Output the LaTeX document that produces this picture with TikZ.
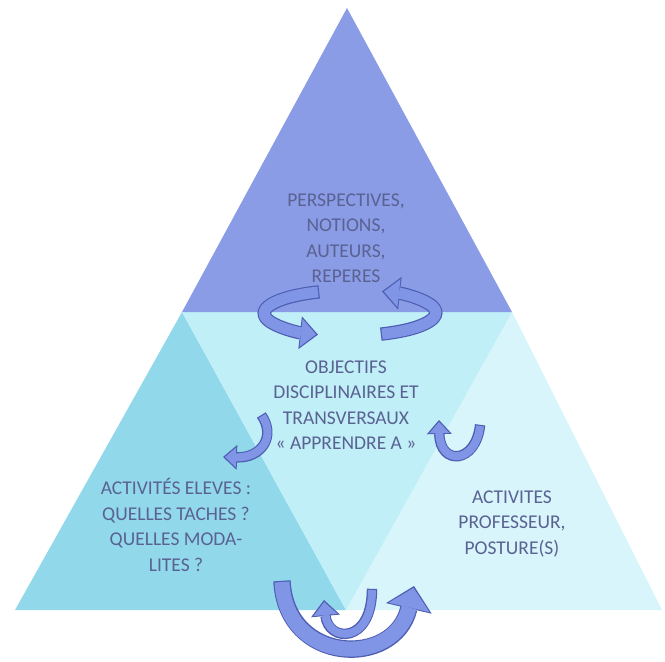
\documentclass[tikz,border=0pt]{standalone}
\usepackage{fontspec}
\setmainfont{Carlito}
\usetikzlibrary{arrows.meta}

\definecolor{toptri}{RGB}{139,156,231}
\definecolor{lefttri}{RGB}{146,216,235}
\definecolor{midtri}{RGB}{192,239,248}
\definecolor{righttri}{RGB}{215,245,250}
\definecolor{textblue}{RGB}{90,98,146}
\definecolor{arrowbody}{RGB}{128,149,230}
\definecolor{arrowedge}{RGB}{78,94,178}

% curved ribbon arrow: width, tip width, tip length, path
\newcommand{\ribbon}[4]{%
  \pgfmathsetmacro\ribw{#1+2.4}\pgfmathsetmacro\tipw{#2+5}\pgfmathsetmacro\tipl{#3+3}%
  \draw[ribbonedge, line width=\ribw pt, shorten <=-1.2pt,
        -{Triangle[width=\tipw pt, length=\tipl pt, line width=0pt]}] #4;
  \draw[ribbonbody, line width=#1pt, shorten >=2pt,
        -{Triangle[width=#2pt, length=#3pt, line width=0pt]}] #4;}

\begin{document}
\begin{tikzpicture}[
    x=1pt, y=-1pt,
    segment/.style={draw=none},
    tierlabel/.style={align=center, text=textblue, inner sep=0pt,
                      font=\fontsize{19.5}{25.5}\selectfont},
    ribbonedge/.style={draw=arrowedge},
    ribbonbody/.style={draw=arrowbody}
]
\useasboundingbox (0,0) rectangle (665,662);

% Pyramid corners
\coordinate (apex) at (347,8);
\coordinate (baseL) at (15,610);
\coordinate (baseR) at (662,610);
\coordinate (baseM) at (346,610);
\coordinate (midL) at (182,312);
\coordinate (midR) at (512,312);

% Four segments
\fill[segment, lefttri] (midL) -- (baseL) -- (baseM) -- cycle;
\fill[segment, righttri] (midR) -- (baseM) -- (baseR) -- cycle;
\fill[segment, midtri] (midL) -- (midR) -- (baseM) -- cycle;
\fill[segment, toptri] (apex) -- (midL) -- (midR) -- cycle;

% Texts
\node[tierlabel] (topic) at (346,238) {PERSPECTIVES,\\NOTIONS,\\AUTEURS,\\REPERES};
\node[tierlabel] (goals) at (346,405) {OBJECTIFS\\DISCIPLINAIRES ET\\TRANSVERSAUX\\« APPRENDRE A »};
\node[tierlabel] (pupils) at (176,525) {ACTIVITÉS ELEVES :\\QUELLES TACHES ?\\QUELLES MODA-\\LITES ?};
\node[tierlabel] (teacher) at (512,524) {ACTIVITES\\PROFESSEUR,\\POSTURE(S)};

% Rotation between the upper tiers
\ribbon{11}{28}{15}{(318,292) arc[start angle=248, end angle=112, x radius=86, y radius=23]}
\ribbon{11}{28}{15}{(382,334) arc[start angle=68, end angle=-68, x radius=86, y radius=23]}

% Side hooks
\ribbon{8}{20}{11}{(262,416) .. controls (276,436) and (262,458) .. (223,457)}
\ribbon{8}{20}{11}{(480,426) .. controls (476,464) and (440,466) .. (439,420)}

% Exchange at the base
\ribbon{15}{42}{20}{(282,582) .. controls (286,665) and (395,668) .. (414,586)}
\ribbon{8}{24}{13}{(372,590) .. controls (372,645) and (328,642) .. (324,600)}

\end{tikzpicture}
\end{document}
